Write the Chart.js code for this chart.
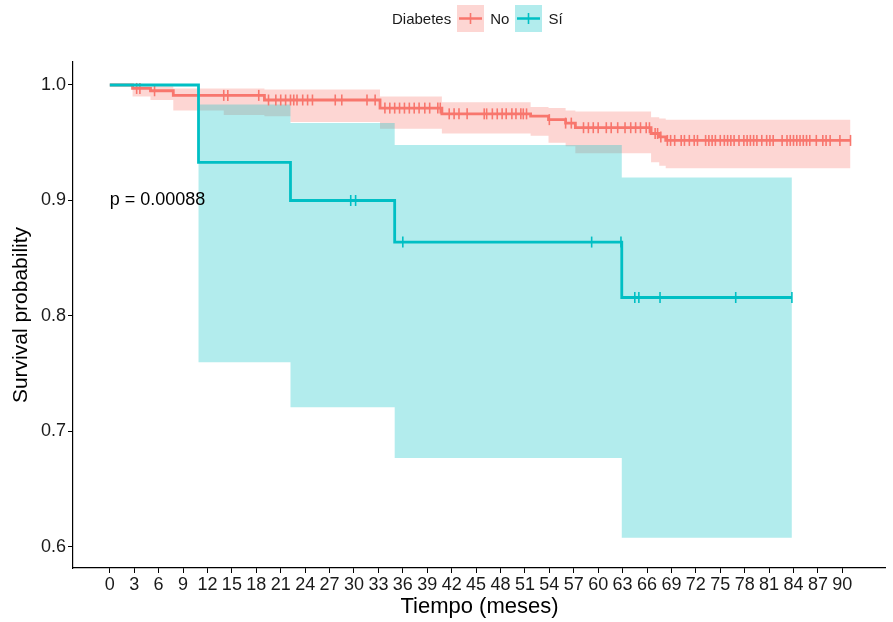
<!DOCTYPE html>
<html><head><meta charset="utf-8">
<script src="https://cdn.jsdelivr.net/npm/chart.js@4.4.0/dist/chart.umd.min.js"></script>
<style>
html,body{margin:0;padding:0;background:#fff;}
#wrap{position:relative;width:893px;height:622px;}
#legend{position:absolute;top:4px;left:392px;height:28px;display:flex;align-items:center;font-family:'Liberation Sans',Arial,sans-serif;font-size:15px;color:#1a1a1a;}
#legend svg{display:block;margin:0 6px;}
</style></head><body>
<div id="wrap">
<canvas id="c" width="893" height="622" style="width:893px;height:622px"></canvas>
<div id="legend"><span>Diabetes</span><span id="k1"></span><span>No</span><span id="k2"></span><span>Sí</span></div>
</div>
<script>
// ---- data ----
const xTickLabels = [0,3,6,9,12,15,18,21,24,27,30,33,36,39,42,45,48,51,54,57,60,63,66,69,72,75,78,81,84,87,90];
const yTickLabels = [0.6,0.7,0.8,0.9,1.0];
const groups = ['No','Sí'];

// Diabetes = No
const noTimes = [0, 2.8, 5.0, 7.8, 14.0, 19.0, 22.2, 33.2, 40.8, 51.7, 53.9, 56.0, 57.2, 66.5, 67.5, 68.3, 91.0];
const noSurv  = [1, 0.997, 0.995, 0.991, 0.991, 0.987, 0.987, 0.980, 0.975, 0.973, 0.970, 0.967, 0.963, 0.958, 0.955, 0.952, 0.952];
const noUpper = [1, 1.000, 0.999, 0.997, 0.997, 0.996, 0.996, 0.990, 0.985, 0.981, 0.980, 0.978, 0.977, 0.972, 0.971, 0.970, 0.970];
const noLower = [1, 0.990, 0.987, 0.978, 0.974, 0.973, 0.968, 0.962, 0.958, 0.956, 0.950, 0.947, 0.941, 0.933, 0.930, 0.928, 0.928];
const noCensor = [3.3,3.7,5.5,14.0,14.5,18.3,19.5,20.4,21.0,21.6,22.2,22.6,23.0,23.7,24.3,24.9,27.7,28.5,31.6,32.6,
  33.8,34.4,35.0,35.6,36.2,36.8,37.4,38.0,38.7,39.3,40.3,40.6,41.7,42.3,42.9,43.9,46.0,46.3,47.0,47.6,48.2,48.7,49.4,
  49.9,50.5,50.8,51.2,54.0,56.0,56.7,58.2,58.8,59.4,60.0,61.0,61.6,62.4,63.3,64.0,64.6,65.2,65.9,66.3,67.0,67.3,67.7,
  68.5,68.9,69.4,70.2,70.6,71.2,71.8,72.2,73.2,73.6,74.0,74.4,75.0,75.5,75.9,76.3,76.7,77.3,77.9,78.3,78.7,79.1,79.5,
  80.1,80.7,81.1,81.5,82.6,83.2,83.6,84.0,84.4,84.8,85.2,85.6,86.0,86.8,87.6,88.0,88.5,89.7,91.0];

// Diabetes = Sí
const siTimes = [0, 10.9, 22.2, 35.0, 62.9, 83.8];
const siSurv  = [1, 0.933, 0.900, 0.864, 0.816, 0.816];
const siUpper = [1, 0.983, 0.967, 0.948, 0.920, 0.920];
const siLower = [1, 0.760, 0.721, 0.677, 0.608, 0.608];
const siCensor = [29.6, 30.2, 36.0, 59.2, 62.8, 64.5, 65.0, 67.6, 76.9, 83.8];

const pText = 'p = 0.00088';

// ---- styling ----
const RED = '#F8766D', TEAL = '#00BFC4';
const RED_FILL = 'rgba(248,118,109,0.3)', TEAL_FILL = 'rgba(0,191,196,0.3)';
const FAM = "'Liberation Sans', Arial, sans-serif";

function pts(t, v){ return t.map((x,i)=>({x:x, y:v[i]})); }
function stepAt(t, v, x){ let y = v[0]; for(let i=0;i<t.length;i++){ if(t[i] <= x) y = v[i]; } return y; }
function censorPts(c, t, v){ return c.map(x=>({x:x, y:stepAt(t,v,x)})); }

function keySvg(col, fill){
  return `<svg width="27" height="27"><rect x="0" y="0" width="27" height="27" fill="${fill}"/>
  <line x1="2" y1="13.5" x2="25" y2="13.5" stroke="${col}" stroke-width="2.5"/>
  <line x1="13.5" y1="8" x2="13.5" y2="19" stroke="${col}" stroke-width="1.6"/></svg>`;
}
document.getElementById('k1').innerHTML = keySvg(RED, RED_FILL);
document.getElementById('k2').innerHTML = keySvg(TEAL, TEAL_FILL);

const lineBase = {stepped:'before', pointRadius:0, fill:false, tension:0};
const ribbonBase = {stepped:'before', pointRadius:0, borderWidth:0, borderColor:'rgba(0,0,0,0)', tension:0};

const pPlugin = {
  id:'pval',
  afterDatasetsDraw(chart){
    const {ctx, scales:{x,y}} = chart;
    ctx.save();
    ctx.font = '18px ' + FAM;
    ctx.fillStyle = '#000';
    ctx.textAlign = 'left';
    ctx.textBaseline = 'middle';
    ctx.fillText(pText, x.getPixelForValue(0), y.getPixelForValue(0.9));
    ctx.restore();
  }
};

new Chart(document.getElementById('c'), {
  type:'line',
  data:{datasets:[
    Object.assign({label:groups[1], data:pts(siTimes, siSurv), borderColor:TEAL, borderWidth:2.8}, lineBase),
    Object.assign({label:groups[0], data:pts(noTimes, noSurv), borderColor:RED, borderWidth:2.8}, lineBase),
    {label:'cs', data:censorPts(siCensor, siTimes, siSurv), showLine:false, pointStyle:'line', rotation:90, pointRadius:5.5, borderColor:TEAL, borderWidth:1.6},
    {label:'cn', data:censorPts(noCensor, noTimes, noSurv), showLine:false, pointStyle:'line', rotation:90, pointRadius:5.5, borderColor:RED, borderWidth:1.6},
    Object.assign({label:'su', data:pts(siTimes, siUpper), fill:false}, ribbonBase),
    Object.assign({label:'sl', data:pts(siTimes, siLower), fill:'-1', backgroundColor:TEAL_FILL}, ribbonBase),
    Object.assign({label:'nu', data:pts(noTimes, noUpper), fill:false}, ribbonBase),
    Object.assign({label:'nl', data:pts(noTimes, noLower), fill:'-1', backgroundColor:RED_FILL}, ribbonBase)
  ]},
  options:{
    responsive:false, animation:false, events:[],
    layout:{padding:{top:62, right:3, left:0, bottom:0}},
    plugins:{legend:{display:false}, tooltip:{enabled:false}, filler:{propagate:false}},
    scales:{
      x:{type:'linear', min:-4.52, max:95.35,
        afterBuildTicks:s=>{ s.ticks = xTickLabels.map(v=>({value:v})); },
        afterFit:s=>{ s.height = 54; },
        grid:{display:true, drawOnChartArea:false, drawTicks:true, tickLength:5, color:'#000', lineWidth:1},
        border:{display:true, color:'#000', width:1.2},
        ticks:{font:{size:18, family:FAM}, color:'#1a1a1a', padding:1, maxRotation:0, autoSkip:false, callback:v=>String(v)},
        title:{display:true, text:'Tiempo (meses)', font:{size:22, family:FAM}, color:'#000', padding:{top:0, bottom:2}}
      },
      y:{type:'linear', min:0.5818, max:1.0199,
        afterBuildTicks:s=>{ s.ticks = yTickLabels.map(v=>({value:v})); },
        afterFit:s=>{ s.width = 73; },
        grid:{display:true, drawOnChartArea:false, drawTicks:true, tickLength:5, color:'#000', lineWidth:1},
        border:{display:true, color:'#000', width:1.2},
        ticks:{font:{size:18, family:FAM}, color:'#1a1a1a', padding:2, callback:v=>Number(v).toFixed(1)},
        title:{display:true, text:'Survival probability', font:{size:21, family:FAM}, color:'#000', padding:{top:9, bottom:0}}
      }
    }
  },
  plugins:[pPlugin]
});
</script>
</body></html>
